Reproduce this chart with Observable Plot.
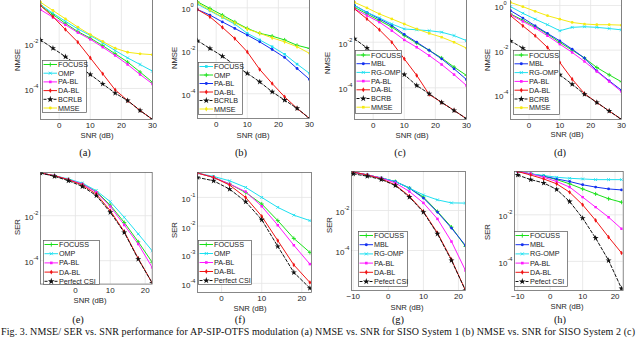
<!DOCTYPE html>
<html><head><meta charset="utf-8">
<script src="https://cdn.jsdelivr.net/npm/d3@7"></script>
<script src="https://cdn.jsdelivr.net/npm/@observablehq/plot@0.6"></script>
<style>
html,body{margin:0;padding:0;background:#fff;}
#fig{position:relative;width:640px;height:338px;overflow:hidden;background:#fff;font-family:"Liberation Sans",Arial,sans-serif;}
#fig svg.p{position:absolute;overflow:visible;background:transparent;}
.lab{position:absolute;font-size:7.7px;color:#262626;white-space:nowrap;transform:translate(-50%,-50%);line-height:1;}
.rot{transform:translate(-50%,-50%) rotate(-90deg);}
.tag{position:absolute;font-family:"Liberation Serif","Times New Roman",serif;font-size:10.5px;color:#111;transform:translate(-50%,-50%);line-height:1;}
</style></head><body><div id="fig"></div><script>
// ---------------- data ----------------
const snrNMSE = [-6, -2, 2, 6, 10, 14, 18, 22, 26, 30];
const snrSER10 = [-10, -6, -2, 2, 6, 10, 14, 18, 22];
const snrSER6 = [-6, -2, 2, 6, 10, 14, 18, 22];
const xTicksNMSE = [0, 10, 20, 30];
const xTicksSER = [0, 10, 20];
const xTicksSER10 = [-10, 0, 10, 20];

// (a) NMSE, SISO System 1
const a_FOCUSS = [0.49, 0.195, 0.079, 0.034, 0.0174, 0.0081, 0.0035, 0.0015, 5.4e-4, 1.9e-4];
const a_OMP    = [0.54, 0.22, 0.098, 0.045, 0.023, 0.0107, 0.0049, 0.0023, 0.00117, 5.9e-4];
const a_PABL   = [0.32, 0.148, 0.068, 0.031, 0.0155, 0.0069, 0.00295, 0.00117, 4.2e-4, 1.6e-4];
const a_DABL   = [0.49, 0.158, 0.042, 0.0115, 0.0023, 4.5e-4, 8.7e-5, 2.9e-5, 1.05e-5, 4.2e-6];
const a_BCRLB  = [0.0145, 0.0062, 0.0026, 0.00105, 4.2e-4, 1.6e-4, 6.2e-5, 2.9e-5, 1.05e-5, 4.2e-6];
const a_MMSE   = [0.69, 0.295, 0.126, 0.054, 0.025, 0.0123, 0.0062, 0.0041, 0.0035, 0.0032];
// (b) NMSE, SISO System 2
const b_FOCUSS = [1.48, 0.72, 0.355, 0.174, 0.065, 0.032, 0.0155, 0.0069, 0.0024, 8.9e-4];
const b_OMP    = [1.9, 0.93, 0.46, 0.22, 0.11, 0.065, 0.048, 0.032, 0.018, 0.0129];
const b_PABL   = [0.83, 0.46, 0.22, 0.11, 0.054, 0.026, 0.0115, 0.0049, 0.0015, 4.7e-4];
const b_DABL   = [0.83, 0.38, 0.123, 0.037, 0.0089, 0.00135, 3.0e-4, 7.2e-5, 2.1e-5, 7.1e-6];
const b_BCRLB  = [0.0295, 0.0129, 0.0056, 0.00214, 8.9e-4, 3.6e-4, 1.23e-4, 5.1e-5, 2.1e-5, 7.1e-6];
const b_MMSE   = [1.7, 0.78, 0.38, 0.2, 0.102, 0.065, 0.04, 0.026, 0.0155, 0.0076];
// (c) NMSE
const c_FOCUSS = [0.34, 0.174, 0.089, 0.046, 0.0195, 0.0091, 0.0044, 0.00204, 8.1e-4, 3.5e-4];
const c_MBL    = [0.41, 0.204, 0.105, 0.054, 0.022, 0.01, 0.0044, 0.00186, 6.8e-4, 2.3e-4];
const c_RGOMP  = [0.41, 0.204, 0.117, 0.063, 0.038, 0.035, 0.032, 0.0275, 0.0195, 0.0117];
const c_PABL   = [0.29, 0.148, 0.076, 0.032, 0.0126, 0.006, 0.0026, 0.00105, 3.8e-4, 1.26e-4];
const c_DABL   = [0.29, 0.105, 0.035, 0.01, 0.00186, 3.5e-4, 5.1e-5, 2.3e-5, 1.02e-5, 4.4e-6];
const c_BCRB   = [0.0141, 0.0056, 0.0022, 8.1e-4, 3.8e-4, 1.26e-4, 5.5e-5, 2.3e-5, 1.02e-5, 4.4e-6];
const c_MMSE   = [0.56, 0.32, 0.174, 0.105, 0.063, 0.038, 0.0245, 0.0166, 0.01, 0.0055];
// (d) NMSE
const d_FOCUSS = [0.42, 0.22, 0.112, 0.052, 0.022, 0.01, 0.0044, 0.00166, 7.8e-4, 3.8e-4];
const d_MBL    = [0.59, 0.275, 0.123, 0.056, 0.026, 0.011, 0.0044, 0.00117, 4.2e-4, 1.6e-4];
const d_RGOMP  = [0.89, 0.45, 0.245, 0.138, 0.074, 0.105, 0.112, 0.105, 0.093, 0.081];
const d_PABL   = [0.39, 0.195, 0.098, 0.044, 0.0186, 0.0079, 0.0031, 0.0011, 3.9e-4, 1.38e-4];
const d_DABL   = [0.35, 0.123, 0.044, 0.0132, 0.0028, 5.0e-4, 1.12e-4, 4.5e-5, 1.86e-5, 7.9e-6];
const d_BCRB   = [0.026, 0.0123, 0.005, 0.002, 7.8e-4, 2.95e-4, 1.05e-4, 4.5e-5, 1.86e-5, 7.9e-6];
const d_MMSE   = [1.38, 0.89, 0.55, 0.35, 0.245, 0.174, 0.148, 0.138, 0.138, 0.132];
// (e) SER
const e_FOCUSS = [0.79, 0.6, 0.4, 0.257, 0.117, 0.0295, 0.005, 6.9e-4, 8.5e-5];
const e_OMP    = [0.79, 0.6, 0.43, 0.28, 0.129, 0.042, 0.0085, 0.00155, 2.75e-4];
const e_PABL   = [0.79, 0.6, 0.4, 0.257, 0.11, 0.0257, 0.0039, 5.5e-4, 5.0e-5];
const e_DABL   = [0.79, 0.6, 0.4, 0.229, 0.091, 0.0166, 0.00195, 1.26e-4, 1.02e-5];
const e_CSI    = [0.79, 0.56, 0.36, 0.2, 0.078, 0.0141, 0.0018, 1.17e-4, 1.02e-5];
// (f) SER
const f_FOCUSS = [0.71, 0.5, 0.295, 0.148, 0.059, 0.0155, 0.0037, 0.0012];
const f_OMP    = [0.71, 0.54, 0.38, 0.224, 0.1, 0.045, 0.024, 0.0155];
const f_PABL   = [0.71, 0.5, 0.295, 0.158, 0.049, 0.0107, 0.00214, 4.7e-4];
const f_DABL   = [0.71, 0.5, 0.27, 0.1, 0.022, 0.0031, 4.4e-4, 1.07e-4];
const f_CSI    = [0.5, 0.38, 0.195, 0.071, 0.0166, 0.00195, 2.4e-4, 6.8e-5];
// (g) SER
const g_FOCUSS = [0.83, 0.6, 0.42, 0.28, 0.132, 0.047, 0.0089, 0.00148, 1.58e-4];
const g_MBL    = [0.83, 0.6, 0.42, 0.28, 0.132, 0.042, 0.0083, 0.00132, 1.78e-4];
const g_RGOMP  = [0.83, 0.6, 0.42, 0.28, 0.132, 0.06, 0.034, 0.024, 0.0234];
const g_PABL   = [0.83, 0.6, 0.42, 0.24, 0.089, 0.024, 0.0038, 2.8e-4, 1.0e-5];
const g_DABL   = [0.83, 0.6, 0.38, 0.19, 0.052, 0.0089, 7.6e-4, 3.5e-5, 1.0e-6];
const g_CSI    = [0.68, 0.52, 0.355, 0.178, 0.047, 0.0083, 6.8e-4, 3.2e-5, 1.0e-6];
// (h) SER
const h_FOCUSS = [0.72, 0.575, 0.457, 0.324, 0.214, 0.129, 0.079, 0.049, 0.0347];
const h_MBL    = [0.72, 0.575, 0.457, 0.347, 0.269, 0.195, 0.155, 0.129, 0.117];
const h_RGOMP  = [0.72, 0.575, 0.49, 0.41, 0.37, 0.347, 0.324, 0.324, 0.324];
const h_PABL   = [0.72, 0.575, 0.41, 0.269, 0.155, 0.0575, 0.0214, 0.0079, 0.0025];
const h_DABL   = [0.72, 0.51, 0.347, 0.214, 0.093, 0.0269, 0.0058, 0.0011, 2.3e-4];
const h_CSI    = [0.51, 0.324, 0.234, 0.123, 0.037, 0.0072, 0.001, 1.1e-4, 6.8e-6];

const captionText = "Fig. 3.  NMSE/ SER vs. SNR performance for AP-SIP-OTFS modulation (a) NMSE vs. SNR for SISO System 1 (b) NMSE vs. SNR for SISO System 2 (c)";

// ---------------- styles ----------------
const C = {green: "#19e019", cyan: "#1ee0f0", magenta: "#ff1aff", red: "#f01414", blue: "#1430f0", yellow: "#f5ea12", black: "#111"};
const S = (name, values, color, symbol, dash) => ({name, values, color, symbol, dash: !!dash});
const STROKE_SYMS = new Set(["plus", "times", "asterisk"]);

const panels = [
  {tag: "(a)", ylab: "NMSE", snr: snrNMSE, xTicks: xTicksNMSE, xDomain: [-6, 30], yLog: [-5.38, -0.04], yExp: [-2, -4],
   frame: [40, -1, 152, 119], ylabPos: [18, 60], xlabPos: [97, 136], tagPos: [85, 153],
   legend: {x0: 42, y0: 60, x1: 87, y1: 113, first: 64.5, step: 8.7},
   series: [S("FOCUSS", a_FOCUSS, C.green, "plus"), S("OMP", a_OMP, C.cyan, "times"), S("PA-BL", a_PABL, C.magenta, "square"),
            S("DA-BL", a_DABL, C.red, "diamond"), S("BCRLB", a_BCRLB, C.black, "star", true), S("MMSE", a_MMSE, C.yellow, "circle")]},
  {tag: "(b)", ylab: "NMSE", snr: snrNMSE, xTicks: xTicksNMSE, xDomain: [-6, 30], yLog: [-5.15, 0.386], yExp: [0, -2, -4],
   frame: [196.5, -1, 308.5, 118], ylabPos: [175, 58], xlabPos: [253, 136], tagPos: [241, 153],
   legend: {x0: 198, y0: 62, x1: 243, y1: 115, first: 66.5, step: 8.5},
   series: [S("FOCUSS", b_FOCUSS, C.cyan, "square"), S("OMP", b_OMP, C.green, "plus"), S("PA-BL", b_PABL, C.blue, "circle"),
            S("DA-BL", b_DABL, C.red, "diamond"), S("BCRLB", b_BCRLB, C.black, "star", true), S("MMSE", b_MMSE, C.yellow, "diamond")]},
  {tag: "(c)", ylab: "NMSE", snr: snrNMSE, xTicks: xTicksNMSE, xDomain: [-6, 30], yLog: [-5.39, -0.127], yExp: [-2, -4],
   frame: [353.5, -1, 465.5, 119], ylabPos: [328, 63], xlabPos: [412, 136], tagPos: [400, 153],
   legend: {x0: 355, y0: 50, x1: 402, y1: 114, first: 55, step: 8.7},
   series: [S("FOCUSS", c_FOCUSS, C.green, "plus"), S("MBL", c_MBL, C.blue, "circle"), S("RG-OMP", c_RGOMP, C.cyan, "times"),
            S("PA-BL", c_PABL, C.magenta, "square"), S("DA-BL", c_DABL, C.red, "diamond"), S("BCRB", c_BCRB, C.black, "star", true),
            S("MMSE", c_MMSE, C.yellow, "square")]},
  {tag: "(d)", ylab: "NMSE", snr: snrNMSE, xTicks: xTicksNMSE, xDomain: [-6, 30], yLog: [-5.11, 0.27], yExp: [0, -2, -4],
   frame: [510, -1, 621, 119], ylabPos: [488, 60], xlabPos: [567, 135], tagPos: [560, 153],
   legend: {x0: 513, y0: 50, x1: 560, y1: 115, first: 55, step: 8.8},
   series: [S("FOCUSS", d_FOCUSS, C.green, "plus"), S("MBL", d_MBL, C.blue, "circle"), S("RG-OMP", d_RGOMP, C.cyan, "times"),
            S("PA-BL", d_PABL, C.magenta, "square"), S("DA-BL", d_DABL, C.red, "diamond"), S("BCRB", d_BCRB, C.black, "star", true),
            S("MMSE", d_MMSE, C.yellow, "circle")]},
  {tag: "(e)", ylab: "SER", snr: snrSER10, xTicks: xTicksSER, xDomain: [-10, 22], yLog: [-5.04, -0.08], yExp: [-2, -4],
   frame: [40, 171.7, 151.7, 283.3], ylabPos: [18, 227], xlabPos: [90, 300.5], tagPos: [78, 320],
   legend: {x0: 43, y0: 240, x1: 100, y1: 285, first: 244.5, step: 9.2},
   series: [S("FOCUSS", e_FOCUSS, C.green, "plus"), S("OMP", e_OMP, C.cyan, "times"), S("PA-BL", e_PABL, C.magenta, "square"),
            S("DA-BL", e_DABL, C.red, "diamond"), S("Perfect CSI", e_CSI, C.black, "star", true)]},
  {tag: "(f)", ylab: "SER", snr: snrSER6, xTicks: xTicksSER, xDomain: [-6, 22.4], yLog: [-4.32, -0.13], yExp: [-1, -2, -3, -4],
   frame: [196.7, 171.7, 310.7, 291.7], ylabPos: [175, 230], xlabPos: [250, 308.5], tagPos: [240, 320],
   legend: {x0: 198, y0: 240, x1: 252, y1: 285, first: 244.5, step: 9},
   series: [S("FOCUSS", f_FOCUSS, C.green, "plus"), S("OMP", f_OMP, C.cyan, "times"), S("PA-BL", f_PABL, C.magenta, "square"),
            S("DA-BL", f_DABL, C.red, "diamond"), S("Perfect CSI", f_CSI, C.black, "star", true)]},
  {tag: "(g)", ylab: "SER", snr: snrSER10, xTicks: xTicksSER10, xDomain: [-10.5, 22], yLog: [-6, -0.05], yExp: [-2, -4],
   frame: [351, 171, 465, 290], ylabPos: [330, 225], xlabPos: [407, 307.5], tagPos: [398, 320],
   legend: {x0: 358, y0: 231, x1: 408, y1: 287, first: 235.5, step: 9.2},
   series: [S("FOCUSS", g_FOCUSS, C.green, "plus"), S("MBL", g_MBL, C.blue, "circle"), S("RG-OMP", g_RGOMP, C.cyan, "times"),
            S("PA-BL", g_PABL, C.magenta, "square"), S("DA-BL", g_DABL, C.red, "diamond"), S("Pefect CSI", g_CSI, C.black, "star", true)]},
  {tag: "(h)", ylab: "SER", snr: snrSER10, xTicks: xTicksSER10, xDomain: [-11, 22.5], yLog: [-5.25, -0.14], yExp: [-2, -4],
   frame: [514, 171, 622.7, 290], ylabPos: [488, 232], xlabPos: [567, 307], tagPos: [560, 320],
   legend: {x0: 514, y0: 231, x1: 568, y1: 287, first: 235.5, step: 9.2},
   series: [S("FOCUSS", h_FOCUSS, C.green, "plus"), S("MBL", h_MBL, C.blue, "circle"), S("RG-OMP", h_RGOMP, C.cyan, "times"),
            S("PA-BL", h_PABL, C.magenta, "square"), S("DA-BL", h_DABL, C.red, "diamond"), S("Pefect CSI", h_CSI, C.black, "star", true)]}
];

// ---------------- drawing ----------------
const fig = document.getElementById("fig");
const FONT = "Liberation Sans, Arial, sans-serif";

function addLabel(text, pos, cls) {
  const d = document.createElement("div");
  d.className = cls;
  d.textContent = text;
  d.style.left = pos[0] + "px";
  d.style.top = pos[1] + "px";
  fig.appendChild(d);
}

function drawPanel(p) {
  const [l, t, r, b] = p.frame;
  const mL = 30, mR = 6, mT = 4, mB = 16;
  const marks = [
    Plot.ruleX(p.xTicks, {x: d => d, stroke: "#e4e4e4", strokeWidth: 0.8}),
    Plot.ruleY(p.yExp, {y: e => 10 ** e, stroke: "#e4e4e4", strokeWidth: 0.8})
  ];
  p.series.forEach(s => {
    const data = s.values.map((v, i) => ({x: p.snr[i], y: v}));
    marks.push(Plot.line(data, {x: "x", y: "y", stroke: s.color, strokeWidth: 1,
      strokeDasharray: s.dash ? "3,2" : null, clip: true}));
  });
  p.series.forEach(s => {
    const data = s.values.map((v, i) => ({x: p.snr[i], y: v}));
    const isStroke = STROKE_SYMS.has(s.symbol);
    marks.push(Plot.dot(data, {x: "x", y: "y", symbol: s.symbol, r: s.symbol === "star" ? 1.9 : 1.4,
      fill: isStroke ? "none" : s.color, stroke: isStroke ? s.color : "none", strokeWidth: 0.9, clip: true}));
  });
  marks.push(Plot.frame({stroke: "#555", strokeWidth: 0.7}));
  marks.push(Plot.axisX(p.xTicks, {label: null, tickSize: 0, tickPadding: 3, fontSize: 8, fill: "#262626"}));
  marks.push(Plot.text(p.yExp, {y: e => 10 ** e, frameAnchor: "left", text: () => "10", textAnchor: "end",
    dx: -7, dy: 2, fontSize: 8, fill: "#262626"}));
  marks.push(Plot.text(p.yExp, {y: e => 10 ** e, frameAnchor: "left", text: e => String(e), textAnchor: "start",
    dx: -7, dy: -2.5, fontSize: 5.6, fill: "#262626"}));
  const svg = Plot.plot({
    width: r - l + mL + mR, height: b - t + mT + mB,
    marginLeft: mL, marginRight: mR, marginTop: mT, marginBottom: mB,
    x: {domain: p.xDomain, label: null},
    y: {type: "log", domain: [10 ** p.yLog[0], 10 ** p.yLog[1]], axis: null, label: null},
    style: {fontFamily: FONT, background: "transparent", overflow: "visible"},
    marks
  });
  svg.classList.add("p");
  svg.style.left = (l - mL) + "px";
  svg.style.top = (t - mT) + "px";
  svg.style.maxWidth = "none";
  fig.appendChild(svg);

  // legend
  const L = p.legend;
  const lg = d3.select(fig).append("svg").attr("class", "p")
    .style("left", L.x0 + "px").style("top", L.y0 + "px")
    .attr("width", L.x1 - L.x0).attr("height", L.y1 - L.y0);
  lg.append("rect").attr("x", 0.4).attr("y", 0.4).attr("width", L.x1 - L.x0 - 0.8).attr("height", L.y1 - L.y0 - 0.8)
    .attr("fill", "#fff").attr("stroke", "#555").attr("stroke-width", 0.7);
  const symMap = {plus: d3.symbolPlus, times: d3.symbolTimes, asterisk: d3.symbolAsterisk, square: d3.symbolSquare,
    diamond: d3.symbolDiamond, circle: d3.symbolCircle, star: d3.symbolStar};
  p.series.forEach((s, i) => {
    const cy = L.first - L.y0 + i * L.step;
    const g = lg.append("g");
    g.append("line").attr("x1", 1.5).attr("x2", 15).attr("y1", cy).attr("y2", cy)
      .attr("stroke", s.color).attr("stroke-width", 1).attr("stroke-dasharray", s.dash ? "3,2" : null);
    const isStroke = STROKE_SYMS.has(s.symbol);
    const size = s.symbol === "star" ? 14 : 7;
    g.append("path").attr("d", d3.symbol(symMap[s.symbol], size)()).attr("transform", `translate(8.3,${cy})`)
      .attr("fill", isStroke ? "none" : s.color).attr("stroke", isStroke ? s.color : "none").attr("stroke-width", 0.9);
    g.append("text").attr("x", 16).attr("y", cy).attr("dy", "0.35em").attr("font-size", 7.2)
      .attr("font-family", FONT).attr("fill", "#222").text(s.name);
  });

  addLabel(p.ylab, p.ylabPos, "lab rot");
  addLabel("SNR (dB)", p.xlabPos, "lab");
  addLabel(p.tag, p.tagPos, "tag");
}

panels.forEach(drawPanel);

// caption line along the bottom edge
const cap = d3.select(fig).append("svg").attr("class", "p").style("left", "0px").style("top", "0px")
  .attr("width", 640).attr("height", 338);
cap.append("text").attr("x", 1).attr("y", 335).attr("font-size", 10)
  .attr("font-family", "Liberation Serif, Times New Roman, serif").attr("fill", "#111")
  .attr("textLength", 634).attr("lengthAdjust", "spacing").text(captionText);
</script></body></html>
